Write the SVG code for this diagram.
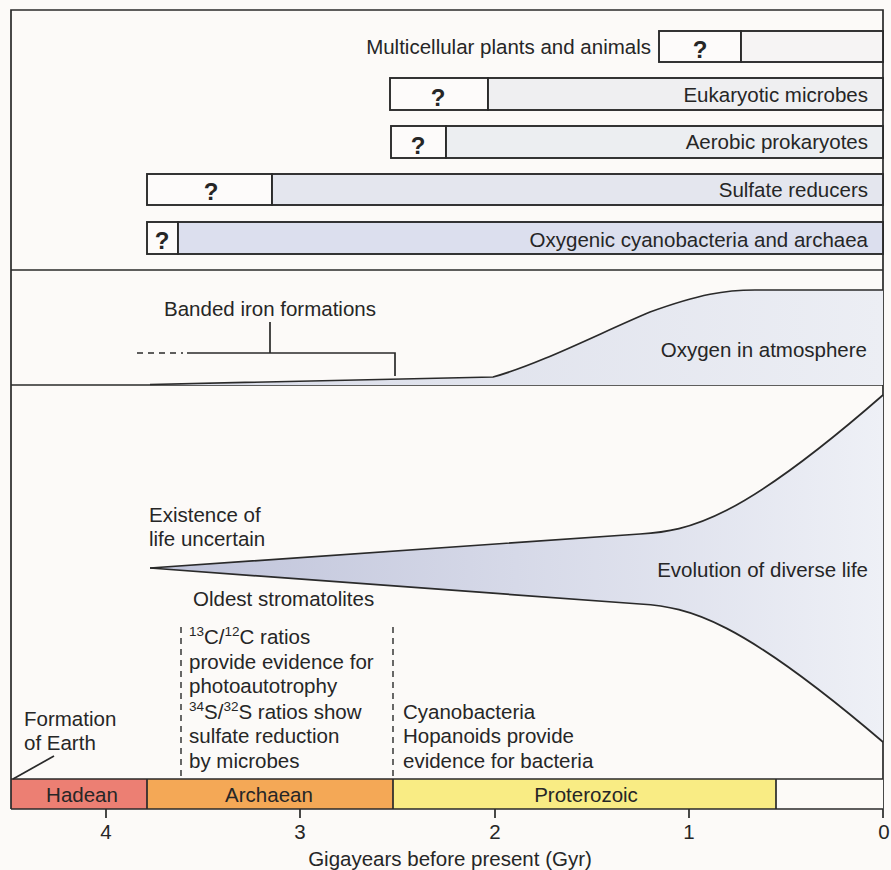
<svg xmlns="http://www.w3.org/2000/svg" width="891" height="870" viewBox="0 0 891 870">
<defs>
<style>
text{font-family:"Liberation Sans",Arial,sans-serif;fill:#262626;font-size:20.5px}
.q{font-weight:bold;font-size:24px;text-anchor:middle}
.r{text-anchor:end}
.m{text-anchor:middle}
.ln{stroke:#2a2a2a;stroke-width:1.7;fill:none}
.bx{stroke:#2a2a2a;stroke-width:1.9}
.dash{stroke:#2a2a2a;stroke-width:1.4;stroke-dasharray:6,5;fill:none}
.sup{font-size:13.5px}
</style>
<linearGradient id="wedge" x1="150" y1="0" x2="883" y2="0" gradientUnits="userSpaceOnUse">
<stop offset="0" stop-color="#bec2d9"/>
<stop offset="0.5" stop-color="#d6d9e8"/>
<stop offset="1" stop-color="#eef0f6"/>
</linearGradient>
<linearGradient id="oxy" x1="150" y1="0" x2="883" y2="0" gradientUnits="userSpaceOnUse">
<stop offset="0" stop-color="#d8dbe8"/>
<stop offset="1" stop-color="#eceef4"/>
</linearGradient>
</defs>
<rect x="0" y="0" width="891" height="870" fill="#fcfaf8"/>

<g id="frame">
<path class="ln" d="M11,779 V10 H883 V809" stroke-width="1.9"/>
<line class="ln" x1="11" y1="270" x2="883" y2="270" stroke-width="1.9"/>
<line class="ln" x1="11" y1="385" x2="883" y2="385" stroke-width="1.9"/>
</g>

<g id="multicellular">
<rect class="bx" x="659" y="31" width="82" height="31" fill="#fdfbfa"/>
<rect class="bx" x="741" y="31" width="142" height="31" fill="#f6f4f4"/>
<text class="q" x="700" y="58">?</text>
<text class="r" x="651" y="54">Multicellular plants and animals</text>
</g>

<g id="eukaryotic">
<rect class="bx" x="390" y="78" width="98" height="32" fill="#fdfbfa"/>
<rect class="bx" x="488" y="78" width="395" height="32" fill="#efeff1"/>
<text class="q" x="438" y="106">?</text>
<text class="r" x="868" y="102">Eukaryotic microbes</text>
</g>

<g id="aerobic">
<rect class="bx" x="391" y="126" width="55" height="32" fill="#fdfbfa"/>
<rect class="bx" x="446" y="126" width="437" height="32" fill="#eceef1"/>
<text class="q" x="418" y="154">?</text>
<text class="r" x="868" y="149">Aerobic prokaryotes</text>
</g>

<g id="sulfate">
<rect class="bx" x="147" y="174" width="125" height="31" fill="#fdfbfa"/>
<rect class="bx" x="272" y="174" width="611" height="31" fill="#e4e6ee"/>
<text class="q" x="211" y="200">?</text>
<text class="r" x="868" y="197">Sulfate reducers</text>
</g>

<g id="oxygenic">
<rect class="bx" x="147" y="222" width="31" height="32" fill="#fdfbfa"/>
<rect class="bx" x="178" y="222" width="705" height="32" fill="#dcdfee"/>
<text class="q" x="162" y="249">?</text>
<text class="r" x="868" y="247">Oxygenic cyanobacteria and archaea</text>
</g>

<g id="banded-iron">
<text class="m" x="270" y="316">Banded iron formations</text>
</g>

<g id="oxygen">
<path d="M150,385 L493,377 C540,364 600,333 650,312 C700,294 725,290 755,290 L883,290 L883,385 Z" fill="url(#oxy)"/>
<path class="ln" d="M150,384.5 L493,377 C540,364 600,333 650,312 C700,294 725,290 755,290 L883,290"/>
<text class="r" x="867" y="357">Oxygen in atmosphere</text>
</g>

<g id="diverse-life">
<path d="M150,568 L640,534 C690,531 740,520 883,395 L883,742 C740,620 690,607 640,604 Z" fill="url(#wedge)"/>
<path class="ln" d="M150,568 L640,534 C690,531 740,520 883,395"/>
<path class="ln" d="M150,568 L640,604 C690,607 740,620 883,742"/>
<text class="r" x="868" y="577">Evolution of diverse life</text>
</g>

<g id="life-uncertain">
<text x="149" y="522">Existence of</text>
<text x="149" y="546">life uncertain</text>
</g>

<g id="archaean-evidence">
<text x="193" y="606">Oldest stromatolites</text>
<text x="189" y="644"><tspan class="sup" dy="-8">13</tspan><tspan dy="8">C/</tspan><tspan class="sup" dy="-8">12</tspan><tspan dy="8">C ratios</tspan></text>
<text x="189" y="669">provide evidence for</text>
<text x="189" y="693">photoautotrophy</text>
<text x="189" y="719"><tspan class="sup" dy="-8">34</tspan><tspan dy="8">S/</tspan><tspan class="sup" dy="-8">32</tspan><tspan dy="8">S ratios show</tspan></text>
<text x="189" y="743">sulfate reduction</text>
<text x="189" y="768">by microbes</text>
</g>

<g id="proterozoic-evidence">
<text x="403" y="719">Cyanobacteria</text>
<text x="403" y="743">Hopanoids provide</text>
<text x="403" y="768">evidence for bacteria</text>
</g>

<g id="formation">
<text x="24" y="726">Formation</text>
<text x="24" y="750">of Earth</text>
</g>

<g id="timeline">
<rect x="11" y="779" width="136" height="30" fill="#ec7f73"/>
<rect x="147" y="779" width="246" height="30" fill="#f4a856"/>
<rect x="393" y="779" width="383" height="30" fill="#f9ec84"/>
<rect x="776" y="779" width="107" height="30" fill="#fcfaf7"/>
<path class="ln" d="M11,779 H883 M11,809 H883 M11,779 V809 M147,779 V809 M393,779 V809 M776,779 V809" stroke-width="1.9"/>
<text class="m" x="82" y="802">Hadean</text>
<text class="m" x="269" y="802">Archaean</text>
<text class="m" x="586" y="802">Proterozoic</text>
</g>

<g id="axis">
<path class="ln" d="M106,809 V818 M300,809 V818 M495,809 V818 M689,809 V818 M883,809 V818" stroke-width="1.9"/>
<text class="m" x="106" y="839">4</text>
<text class="m" x="300" y="839">3</text>
<text class="m" x="495" y="839">2</text>
<text class="m" x="689" y="839">1</text>
<text class="m" x="884" y="839">0</text>
<text class="m" x="450" y="866">Gigayears before present (Gyr)</text>
</g>

<g id="connectors">
<path class="ln" d="M270,322 V353 M187,353 H395 V376"/>
<path class="dash" d="M137,353 H183"/>
<line class="dash" x1="181" y1="627" x2="181" y2="779"/>
<line class="dash" x1="393" y1="627" x2="393" y2="779"/>
<line class="ln" x1="13" y1="779" x2="54" y2="756"/>
</g>
</svg>
